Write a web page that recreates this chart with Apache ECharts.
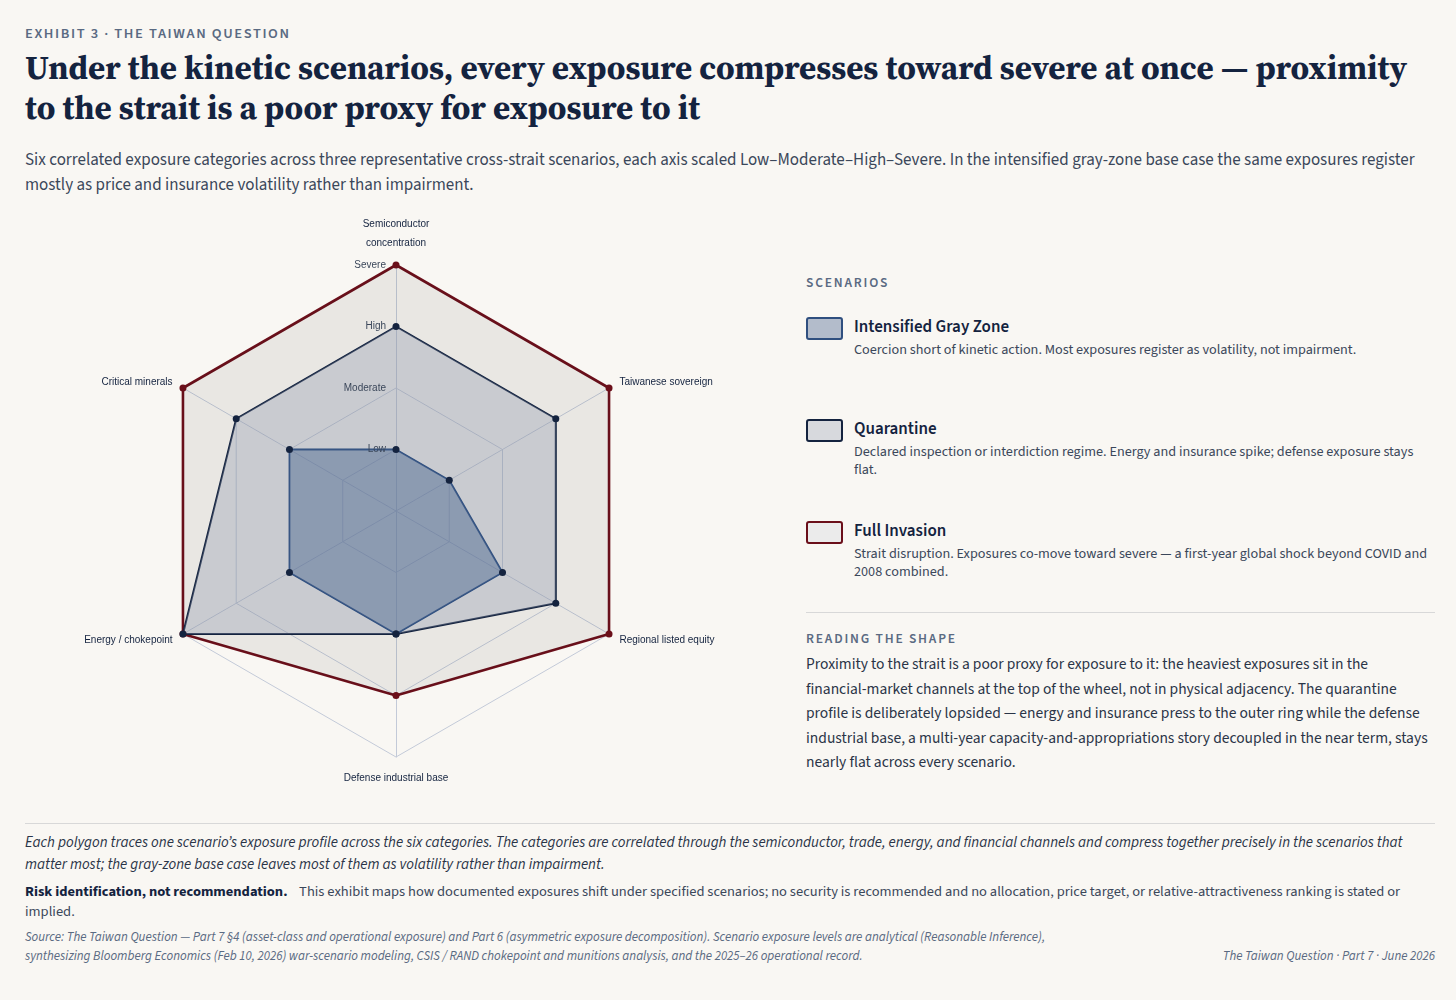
<!DOCTYPE html>
<html><head><meta charset="utf-8">
<script src="https://cdn.jsdelivr.net/npm/echarts@6/dist/echarts.min.js"></script>
<style>
body{margin:0;background:#f9f7f3;font-family:"Source Sans 3","Noto Sans",sans-serif;color:#1f2a3d;width:1456px;height:1000px;position:relative;overflow:hidden}
.abs{position:absolute}
#kicker{left:25px;top:23px;font-size:14.5px;letter-spacing:1.6px;color:#5a6a82;font-weight:600}
#title{left:25px;top:48px;width:1410px;font-family:"Source Serif 4","Source Serif Pro","Liberation Serif",serif;font-weight:bold;font-size:33px;line-height:40px;color:#14233f}
#sub{left:25px;top:148px;width:1410px;font-size:17px;line-height:25px;color:#3b475a}
#chart{left:0;top:200px;width:790px;height:610px}
.hd{font-size:13.5px;letter-spacing:1.8px;color:#5a6a82;font-weight:600}
.lg{left:806px;width:630px}
.sw{position:absolute;left:0;top:2px;width:33px;height:19px;border-radius:3px;border:2px solid}
.lt{margin-left:48px;font-size:17px;font-weight:600;color:#14233f}
.ld{margin-left:48px;font-size:14.2px;line-height:18px;color:#3b475a;margin-top:2px}
#read{left:806px;top:652px;width:625px;font-size:15.5px;line-height:24.5px;color:#2a3447}
#foot{left:25px;top:823px;width:1410px;border-top:1px solid #d8d8d8;padding-top:8px}
</style></head><body>
<div id="kicker" class="abs">EXHIBIT 3 · THE TAIWAN QUESTION</div>
<div id="title" class="abs">Under the kinetic scenarios, every exposure compresses toward severe at once — proximity to the strait is a poor proxy for exposure to it</div>
<div id="sub" class="abs">Six correlated exposure categories across three representative cross-strait scenarios, each axis scaled Low–Moderate–High–Severe. In the intensified gray-zone base case the same exposures register mostly as price and insurance volatility rather than impairment.</div>
<div id="chart" class="abs"></div>
<div class="abs hd" style="left:806px;top:273px">SCENARIOS</div>
<div class="abs lg" style="top:315px"><div class="sw" style="background:#b3bccb;border-color:#2f4f7f"></div><div class="lt">Intensified Gray Zone</div><div class="ld">Coercion short of kinetic action. Most exposures register as volatility, not impairment.</div></div>
<div class="abs lg" style="top:417px"><div class="sw" style="background:#d7d9dd;border-color:#14233f"></div><div class="lt">Quarantine</div><div class="ld">Declared inspection or interdiction regime. Energy and insurance spike; defense exposure stays flat.</div></div>
<div class="abs lg" style="top:519px"><div class="sw" style="background:#ebebeb;border-color:#6b0f1a"></div><div class="lt">Full Invasion</div><div class="ld">Strait disruption. Exposures co-move toward severe — a first-year global shock beyond COVID and 2008 combined.</div></div>
<div class="abs" style="left:806px;top:612px;width:629px;border-top:1px solid #d8d8d8"></div>
<div class="abs hd" style="left:806px;top:629px">READING THE SHAPE</div>
<div id="read" class="abs">Proximity to the strait is a poor proxy for exposure to it: the heaviest exposures sit in the financial-market channels at the top of the wheel, not in physical adjacency. The quarantine profile is deliberately lopsided — energy and insurance press to the outer ring while the defense industrial base, a multi-year capacity-and-appropriations story decoupled in the near term, stays nearly flat across every scenario.</div>
<div id="foot" class="abs">
<div style="font-style:italic;font-size:15px;line-height:22px;color:#2a3447">Each polygon traces one scenario’s exposure profile across the six categories. The categories are correlated through the semiconductor, trade, energy, and financial channels and compress together precisely in the scenarios that matter most; the gray-zone base case leaves most of them as volatility rather than impairment.</div>
<div style="font-size:14.5px;line-height:20px;color:#3b475a;margin-top:6px"><b style="color:#14233f">Risk identification, not recommendation.</b>&nbsp;&nbsp;&nbsp; This exhibit maps how documented exposures shift under specified scenarios; no security is recommended and no allocation, price target, or relative-attractiveness ranking is stated or implied.</div>
<div style="font-style:italic;font-size:13px;line-height:19px;color:#5a6a82;margin-top:6px;position:relative"><div style="width:1030px">Source: The Taiwan Question — Part 7 §4 (asset-class and operational exposure) and Part 6 (asymmetric exposure decomposition). Scenario exposure levels are analytical (Reasonable Inference), synthesizing Bloomberg Economics (Feb 10, 2026) war-scenario modeling, CSIS / RAND chokepoint and munitions analysis, and the 2025–26 operational record.</div><div style="position:absolute;right:0;bottom:0">The Taiwan Question · Part 7 · June 2026</div></div>
</div>
<script>
const categories=["Semiconductor\nconcentration","Critical minerals","Energy / chokepoint","Defense industrial base","Regional listed equity","Taiwanese sovereign"];
const levels=["","Low","Moderate","High","Severe"];
const grayZone=[1,2,2,2,2,1];
const quarantine=[3,3,4,2,3,3];
const invasion=[4,4,4,3,4,4];
const c=echarts.init(document.getElementById('chart'));
const cx=396,cy=311,R=246;
c.setOption({
 radar:{center:[cx,cy],radius:R,startAngle:90,splitNumber:4,shape:'polygon',
  indicator:categories.map(n=>({name:n,min:0,max:4})),
  axisName:{color:'#14233f',fontSize:15,fontWeight:600,fontFamily:'Source Sans 3',lineHeight:19},nameGap:12,
  splitLine:{lineStyle:{color:'#c3cad8',width:1}},splitArea:{show:false},
  axisLine:{lineStyle:{color:'#c3cad8'}}},
 grid:{left:cx,top:cy-R,height:R,width:1,z:20},
 xAxis:{show:false,type:'value'},
 yAxis:{type:'value',min:0,max:4,interval:1,z:20,axisLine:{show:false},axisTick:{show:false},splitLine:{show:false},
  axisLabel:{formatter:v=>levels[v],color:'#3b475a',fontSize:13.5,fontWeight:500,fontFamily:'Source Sans 3',margin:10}},
 series:[{type:'radar',z:2,symbol:'circle',symbolSize:7,data:[
  {value:invasion,lineStyle:{color:'#6b0f1a',width:2.6},itemStyle:{color:'#6b0f1a'},areaStyle:{color:'rgba(40,40,40,0.075)',opacity:1}},
  {value:quarantine,lineStyle:{color:'#14233f',width:2},itemStyle:{color:'#14233f'},areaStyle:{color:'#8e98ab',opacity:0.35}},
  {value:grayZone,lineStyle:{color:'#2f4f7f',width:1.8},itemStyle:{color:'#14233f'},areaStyle:{color:'#4f6a92',opacity:0.5}}
 ]}]
});
</script>
</body></html>
